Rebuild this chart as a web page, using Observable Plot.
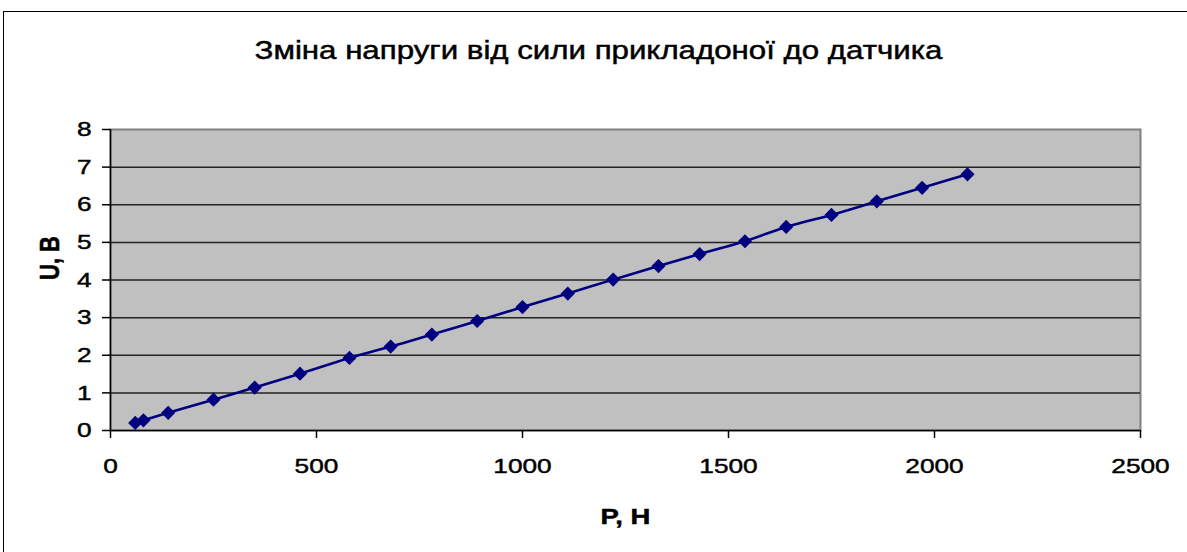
<!DOCTYPE html>
<html>
<head>
<meta charset="utf-8">
<script src="https://cdn.jsdelivr.net/npm/d3@7"></script>
<script src="https://cdn.jsdelivr.net/npm/@observablehq/plot@0.6"></script>
<style>
  html, body { margin: 0; padding: 0; background: #fff; }
  #wrap { position: relative; width: 1187px; height: 552px; overflow: hidden; background: #fff; }
  #border { position: absolute; left: 3px; top: 11px; width: 1300px; height: 700px; border: 1.5px solid #000; box-sizing: border-box; }
  #chart { position: absolute; left: 0; top: 0; }
  #chart text { stroke: #000; stroke-width: 0.45px; }
</style>
</head>
<body>
<div id="wrap"><div id="border"></div><div id="chart"></div></div>
<script>
const titleText = "Зміна напруги від сили прикладоної до датчика";
const xLabel = "P, H";
const yLabel = "U, B";
const P = [60, 80, 140, 250, 350, 460, 580, 680, 780, 890, 1000, 1110, 1220, 1330, 1430, 1540, 1640, 1750, 1860, 1970, 2080];
const U = [0.20, 0.27, 0.47, 0.82, 1.14, 1.51, 1.93, 2.23, 2.55, 2.91, 3.28, 3.64, 4.01, 4.37, 4.69, 5.03, 5.41, 5.73, 6.09, 6.45, 6.81];
const xTicks = [0, 500, 1000, 1500, 2000, 2500];
const yTicks = [0, 1, 2, 3, 4, 5, 6, 7, 8];

const data = P.map((p, i) => ({P: p, U: U[i]}));
const navy = "#000080";

const chart = Plot.plot({
  width: 1187,
  height: 552,
  marginLeft: 110,
  marginRight: 47,
  marginTop: 129,
  marginBottom: 122,
  style: {fontFamily: "'Liberation Sans', Arial, sans-serif", fontSize: "21px", color: "#000", background: "transparent", overflow: "visible"},
  x: {domain: [0, 2500], label: null},
  y: {domain: [0, 8], label: null},
  marks: [
    Plot.frame({fill: "#c0c0c0", stroke: "#808080", strokeWidth: 2}),
    Plot.ruleY(yTicks.slice(1, -1), {stroke: "#222", strokeWidth: 1.5}),
    Plot.ruleY([0], {stroke: "#000", strokeWidth: 1.5}),
    Plot.ruleX([0], {stroke: "#000", strokeWidth: 1.5}),
    Plot.axisX({ticks: xTicks, tickSize: 8, tickPadding: 20, tickFormat: d => String(d), stroke: "#000", strokeWidth: 1.5, label: null}),
    Plot.axisY({ticks: yTicks, tickSize: 8, tickPadding: 11, tickFormat: d => String(d), stroke: "#000", strokeWidth: 1.5, label: null}),
    Plot.line(data, {x: "P", y: "U", curve: "catmull-rom", stroke: navy, strokeWidth: 2.6}),
    Plot.dot(data, {x: "P", y: "U", symbol: "diamond2", r: 6.4, fill: navy, stroke: "none"}),
    Plot.text([titleText], {frameAnchor: "top", dx: -27, dy: -79, lineAnchor: "middle", fontSize: 25, fill: "#000"}),
    Plot.text([xLabel], {frameAnchor: "bottom", dy: 86, lineAnchor: "middle", fontSize: 22, fontWeight: "bold", fill: "#000"}),
    Plot.text([yLabel], {frameAnchor: "left", dx: -60, rotate: -90, lineAnchor: "middle", fontSize: 22, fontWeight: "bold", fill: "#000"})
  ]
});

// emulate the horizontally stretched text of the original
const sx = 1.25;
chart.querySelectorAll("text").forEach(t => {
  const tr = t.getAttribute("transform");
  if (tr && /^translate\([^)]*\)/.test(tr)) {
    t.setAttribute("transform", tr.replace(/^(translate\([^)]*\))/, `$1 scale(${sx},1)`));
  } else if (!tr) {
    const x = +(t.getAttribute("x") || 0), y = +(t.getAttribute("y") || 0);
    t.removeAttribute("x"); t.removeAttribute("y");
    t.setAttribute("transform", `translate(${x},${y}) scale(${sx},1)`);
  }
});

document.getElementById("chart").appendChild(chart);
</script>
</body>
</html>
